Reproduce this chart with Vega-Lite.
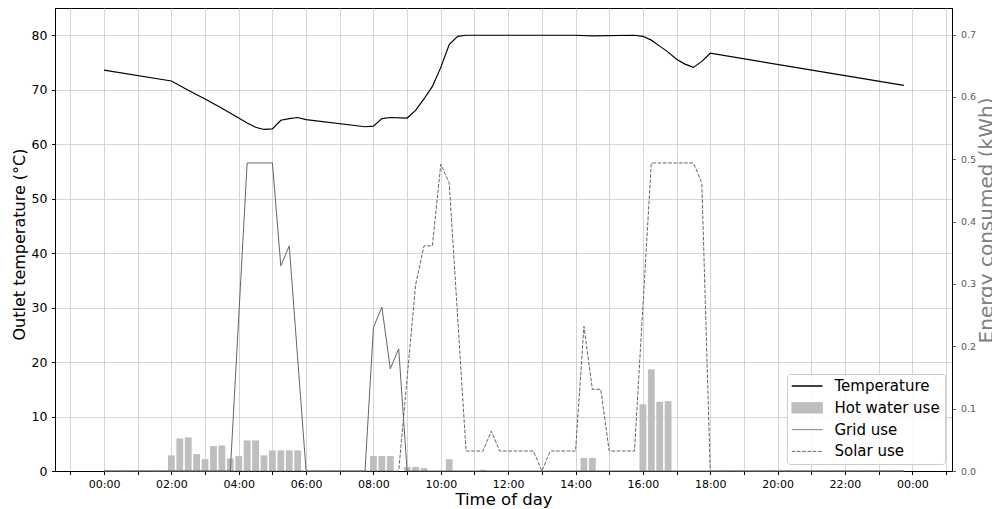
{
  "$schema": "https://vega.github.io/schema/vega-lite/v6.json",
  "width": 897,
  "height": 463,
  "autosize": {"type": "none"},
  "padding": {"left": 55, "top": 8, "right": 40, "bottom": 38},
  "background": "white",
  "config": {
    "view": {"stroke": "black", "strokeWidth": 1},
    "font": "DejaVu Sans",
    "axis": {
      "labelFont": "DejaVu Sans",
      "titleFont": "DejaVu Sans",
      "titleFontWeight": "normal",
      "domainColor": "black",
      "domainWidth": 1,
      "tickColor": "black",
      "labelColor": "black",
      "titleColor": "black",
      "gridColor": "#cccccc",
      "gridWidth": 0.8,
      "tickSize": 3.5
    }
  },
  "datasets": {
    "temp": [
      {"h": 0, "v": 73.6}, {"h": 2.0, "v": 71.6}, {"h": 2.5, "v": 69.9}, {"h": 3.0, "v": 68.3},
      {"h": 3.5, "v": 66.6}, {"h": 4.0, "v": 64.8}, {"h": 4.25, "v": 63.9}, {"h": 4.5, "v": 63.1},
      {"h": 4.75, "v": 62.7}, {"h": 5.0, "v": 62.8}, {"h": 5.25, "v": 64.4}, {"h": 5.5, "v": 64.7},
      {"h": 5.75, "v": 64.9}, {"h": 6.0, "v": 64.5}, {"h": 7.75, "v": 63.2}, {"h": 8.0, "v": 63.3},
      {"h": 8.25, "v": 64.7}, {"h": 8.5, "v": 64.9}, {"h": 9.0, "v": 64.8}, {"h": 9.25, "v": 66.2},
      {"h": 9.5, "v": 68.3}, {"h": 9.75, "v": 70.6}, {"h": 10.0, "v": 74.1}, {"h": 10.25, "v": 78.3},
      {"h": 10.5, "v": 79.8}, {"h": 10.75, "v": 80.0}, {"h": 14.0, "v": 80.0}, {"h": 14.5, "v": 79.9},
      {"h": 15.75, "v": 80.0}, {"h": 16.0, "v": 79.8}, {"h": 16.25, "v": 79.1}, {"h": 16.5, "v": 78.0},
      {"h": 16.75, "v": 76.9}, {"h": 17.0, "v": 75.6}, {"h": 17.25, "v": 74.7}, {"h": 17.5, "v": 74.1},
      {"h": 17.75, "v": 75.2}, {"h": 18.0, "v": 76.7}, {"h": 23.75, "v": 70.8}
    ],
    "hotwater": [
      {"h": 2.0, "v": 0.025}, {"h": 2.25, "v": 0.052}, {"h": 2.5, "v": 0.054}, {"h": 2.75, "v": 0.027},
      {"h": 3.0, "v": 0.019}, {"h": 3.25, "v": 0.040}, {"h": 3.5, "v": 0.041}, {"h": 3.75, "v": 0.020},
      {"h": 4.0, "v": 0.024}, {"h": 4.25, "v": 0.049}, {"h": 4.5, "v": 0.049}, {"h": 4.75, "v": 0.025},
      {"h": 5.0, "v": 0.033}, {"h": 5.25, "v": 0.033}, {"h": 5.5, "v": 0.033}, {"h": 5.75, "v": 0.033},
      {"h": 8.0, "v": 0.024}, {"h": 8.25, "v": 0.024}, {"h": 8.5, "v": 0.024},
      {"h": 9.0, "v": 0.0065}, {"h": 9.25, "v": 0.0065}, {"h": 9.5, "v": 0.0045},
      {"h": 10.25, "v": 0.019}, {"h": 11.25, "v": 0.002},
      {"h": 14.25, "v": 0.021}, {"h": 14.5, "v": 0.021},
      {"h": 16.0, "v": 0.107}, {"h": 16.25, "v": 0.163}, {"h": 16.5, "v": 0.111}, {"h": 16.75, "v": 0.112}
    ],
    "grid": [
      {"h": 0, "v": 0}, {"h": 3.75, "v": 0}, {"h": 4.25, "v": 0.494}, {"h": 5.0, "v": 0.494},
      {"h": 5.25, "v": 0.329}, {"h": 5.5, "v": 0.361}, {"h": 6.0, "v": 0}, {"h": 7.75, "v": 0},
      {"h": 8.0, "v": 0.230}, {"h": 8.25, "v": 0.263}, {"h": 8.5, "v": 0.164}, {"h": 8.75, "v": 0.196},
      {"h": 9.0, "v": 0}, {"h": 23.75, "v": 0}
    ],
    "solar": [
      {"h": 0, "v": 0}, {"h": 8.75, "v": 0}, {"h": 9.25, "v": 0.298}, {"h": 9.5, "v": 0.361},
      {"h": 9.75, "v": 0.361}, {"h": 10.0, "v": 0.492}, {"h": 10.25, "v": 0.462}, {"h": 10.75, "v": 0.032},
      {"h": 11.25, "v": 0.032}, {"h": 11.5, "v": 0.064}, {"h": 11.75, "v": 0.032}, {"h": 12.75, "v": 0.032},
      {"h": 13.0, "v": 0}, {"h": 13.25, "v": 0.032}, {"h": 14.0, "v": 0.032}, {"h": 14.25, "v": 0.232},
      {"h": 14.5, "v": 0.131}, {"h": 14.75, "v": 0.131}, {"h": 15.0, "v": 0.032}, {"h": 15.75, "v": 0.032},
      {"h": 16.25, "v": 0.494}, {"h": 17.5, "v": 0.494}, {"h": 17.75, "v": 0.462}, {"h": 18.0, "v": 0},
      {"h": 23.75, "v": 0}
    ]
  },
  "encoding": {
    "x": {
      "field": "h",
      "type": "quantitative",
      "scale": {"domain": [-1.307, 25.03], "nice": false, "zero": false},
      "axis": {
        "values": [-1, 0, 1, 2, 3, 4, 5, 6, 7, 8, 9, 10, 11, 12, 13, 14, 15, 16, 17, 18, 19, 20, 21, 22, 23, 24, 25],
        "grid": true,
        "labelExpr": "datum.value % 2 == 0 && datum.value >= 0 ? ((datum.value % 24) < 10 ? '0' : '') + (datum.value % 24) + ':00' : ''",
        "labelFontSize": 11,
        "labelPadding": 4,
        "labelFlush": false,
        "labelOverlap": false,
        "title": "Time of day",
        "titleFontSize": 16.5,
        "titleY": 33,
        "titleBaseline": "alphabetic"
      }
    }
  },
  "layer": [
    {
      "encoding": {
        "y": {
          "field": "v",
          "type": "quantitative",
          "scale": {"domain": [0, 0.7425], "nice": false},
          "axis": {
            "orient": "right",
            "title": "Energy consumed (kWh)",
            "values": [0, 0.1, 0.2, 0.3, 0.4, 0.5, 0.6, 0.7],
            "format": ".1f",
            "grid": false,
            "labelFontSize": 9.5,
            "labelColor": "#5a5a5a",
            "tickColor": "#666666",
            "labelPadding": 5,
            "titleColor": "#808080",
            "titleFontSize": 20,
            "titleAngle": 270,
            "titleX": 40,
            "titleY": 212,
            "titleAlign": "center",
            "titleBaseline": "alphabetic"
          }
        }
      },
      "layer": [
        {
          "data": {"name": "hotwater"},
          "mark": {"type": "bar", "size": 6.8},
          "encoding": {
            "color": {
              "datum": "Hot water use",
              "type": "nominal",
              "scale": {
                "domain": ["Temperature", "Hot water use", "Grid use", "Solar use"],
                "range": ["#000000", "#bebebe", "#666666", "#666666"]
              },
              "legend": {
                "orient": "bottom-right",
                "offset": 7,
                "title": null,
                "labelFont": "DejaVu Sans",
                "labelFontSize": 15,
                "labelColor": "black",
                "fillColor": "rgba(255,255,255,0.85)",
                "strokeColor": "#cccccc",
                "cornerRadius": 3,
                "padding": 4.5,
                "rowPadding": 5.8,
                "clipHeight": 15,
                "symbolSize": 961,
                "labelOffset": 20,
                "symbolOffset": 8,
                "symbolType": "stroke",
                "encode": {
                  "symbols": {
                    "update": {
                      "shape": {"signal": "datum.value === 'Hot water use' ? 'M-1,-0.34H1V0.34H-1Z' : 'stroke'"},
                      "fill": {"signal": "datum.value === 'Hot water use' ? '#bebebe' : 'transparent'"},
                      "stroke": {"signal": "datum.value === 'Hot water use' ? 'transparent' : (datum.value === 'Temperature' ? '#000000' : '#666666')"},
                      "strokeDash": {"signal": "datum.value === 'Solar use' ? [3.7, 1.6] : [1, 0]"},
                      "strokeWidth": {"signal": "datum.value === 'Temperature' ? 1.3 : 1"},
                      "opacity": {"value": 1}
                    }
                  }
                }
              }
            }
          }
        },
        {
          "data": {"name": "grid"},
          "mark": {"type": "line", "strokeWidth": 1},
          "encoding": {"color": {"datum": "Grid use", "type": "nominal"}}
        },
        {
          "data": {"name": "solar"},
          "mark": {"type": "line", "strokeWidth": 1, "strokeDash": [3.7, 1.6]},
          "encoding": {"color": {"datum": "Solar use", "type": "nominal"}}
        }
      ]
    },
    {
      "data": {"name": "temp"},
      "mark": {"type": "line", "strokeWidth": 1.2},
      "encoding": {
        "y": {
          "field": "v",
          "type": "quantitative",
          "scale": {"domain": [0, 85], "nice": false},
          "axis": {
            "orient": "left",
            "title": "Outlet temperature (°C)",
            "values": [0, 10, 20, 30, 40, 50, 60, 70, 80],
            "grid": true,
            "labelFontSize": 12.5,
            "labelPadding": 4.5,
            "titleFontSize": 16,
            "titleAngle": 270,
            "titleX": -31,
            "titleY": 236,
            "titleAlign": "center",
            "titleBaseline": "alphabetic"
          }
        },
        "color": {"datum": "Temperature", "type": "nominal"}
      }
    }
  ],
  "resolve": {"scale": {"y": "independent"}}
}
